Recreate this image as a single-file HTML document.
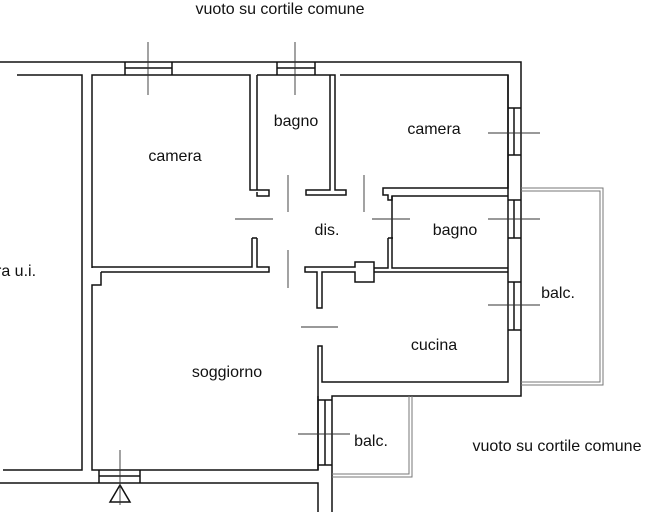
<!DOCTYPE html>
<html><head><meta charset="utf-8"><style>
html,body{margin:0;padding:0;background:#fff;}
svg{display:block;}
text{font-family:"Liberation Sans",Arial,sans-serif;font-size:16px;fill:#111;}
</style></head><body>
<svg width="647" height="512" viewBox="0 0 647 512" xmlns="http://www.w3.org/2000/svg">
<g fill="none" stroke="#111" stroke-width="1.5">
<path d="M0 62 H521 V396 H332 V512"/>
<path d="M318 512 V483 H0"/>
<path d="M17 75 H82 V470 H3"/>
<path d="M92 268 V75 H250 V190 H269 V196 H257 V192"/>
<path d="M257 75 V190"/>
<path d="M252 238 V267 H92"/>
<path d="M257 238 V267 H269 V272 H101"/>
<path d="M252 238 H257"/>
<path d="M257 75 H335 V190 H346 V195 H306 V190 H330 V75"/>
<path d="M340 75 H508 V188 H383 V195 H388 V200 H392 V196 H508"/>
<path d="M392 196 V268 H508"/>
<path d="M388 238 V268 H374 M388 238 H393"/>
<path d="M305 267 H355 V262 H374 V282 H355 V272 H322 V308 H317 V272 H305 Z"/>
<path d="M374 272 H508"/>
<path d="M508 75 V382 H322 V346 H318 V400"/>
<path d="M101 272 V285 H92 V470 H318 V396"/>
<path d="M318 400 V470"/>
<path d="M125 62 V75 M172 62 V75 M125 68 H172"/>
<path d="M277 62 V75 M315 62 V75 M277 68 H315"/>
<path d="M508 108 H521 M508 155 H521 M514 108 V155"/>
<path d="M508 200 H521 M508 238 H521 M514 200 V238"/>
<path d="M508 282 H521 M508 330 H521 M514 282 V330"/>
<path d="M318 400 H332 M318 465 H332 M325 400 V465"/>
<path d="M99 470 V483 M140 470 V483 M99 476 H140"/>
<path d="M110 502 L120 485 L130 502 Z"/>
</g>
<g stroke="#333" stroke-width="0.9" fill="none">
<path d="M148 42 V95 M295 42 V95 M488 133 H540 M488 219 H540 M488 305 H540 M298 434 H350 M120 450 V505"/>
<path d="M288 175 V212 M364 175 V212 M235 219 H273 M372 219 H410 M288 250 V288 M301 327 H338"/>
</g>
<g fill="none" stroke="#777" stroke-width="1">
<path d="M521 188 H603 V385 H521"/>
<path d="M521 191 H600 V382 H521"/>
<path d="M332 477 H412 V396"/>
<path d="M332 474 H409 V396"/>
</g>
<text x="280" y="14" text-anchor="middle">vuoto su cortile comune</text>
<text x="175" y="161" text-anchor="middle">camera</text>
<text x="296" y="126" text-anchor="middle">bagno</text>
<text x="434" y="134" text-anchor="middle">camera</text>
<text x="327" y="235" text-anchor="middle">dis.</text>
<text x="455" y="235" text-anchor="middle">bagno</text>
<text x="-4" y="276">ra u.i.</text>
<text x="558" y="298" text-anchor="middle">balc.</text>
<text x="434" y="350" text-anchor="middle">cucina</text>
<text x="227" y="377" text-anchor="middle">soggiorno</text>
<text x="371" y="446" text-anchor="middle">balc.</text>
<text x="557" y="451" text-anchor="middle">vuoto su cortile comune</text>
</svg>
</body></html>
